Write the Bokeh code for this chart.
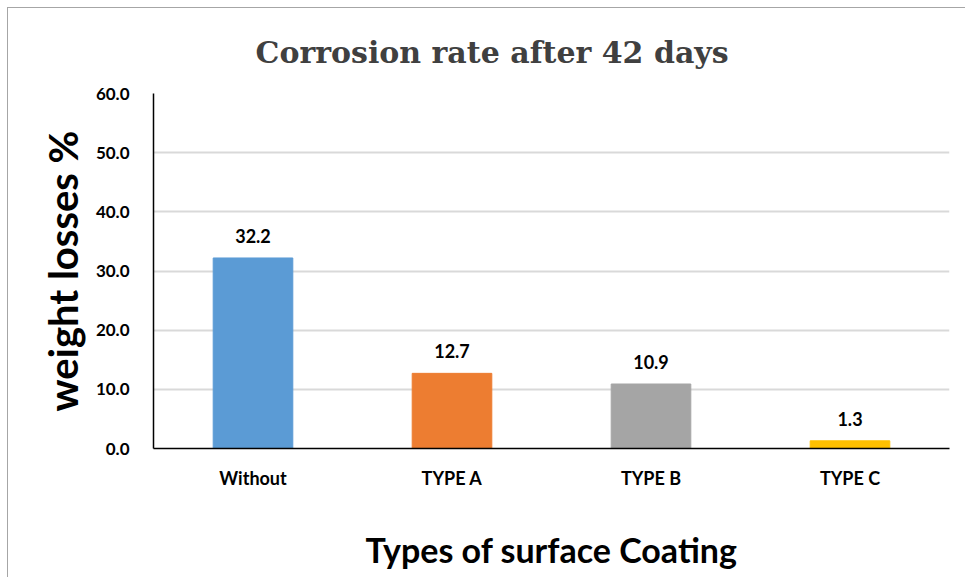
from bokeh.plotting import figure
from bokeh.models import ColumnDataSource, SingleIntervalTicker, NumeralTickFormatter, Title, FactorRange
from bokeh.core.properties import value
from bokeh.embed import file_html
from bokeh.resources import INLINE

categories = ["Without", "TYPE A", "TYPE B", "TYPE C"]
weight_losses = [32.2, 12.7, 10.9, 1.3]
bar_colors = ["#5B9BD5", "#ED7D31", "#A5A5A5", "#FFC000"]
labels = ["32.2", "12.7", "10.9", "1.3"]

src = ColumnDataSource(dict(cat=categories, val=weight_losses, color=bar_colors, lab=labels))

FONT = "Lato"

p = figure(frame_width=796, frame_height=355, x_range=FactorRange(*categories, range_padding=0),
           y_range=(0, 60), output_backend="svg", toolbar_location=None,
           min_border_left=145, min_border_right=16, min_border_top=85, min_border_bottom=129)
p.styles = {"margin-left": "7px", "margin-top": "7px",
            "border-top": "1.5px solid #a6a6a6", "border-left": "1.5px solid #a6a6a6"}

t = Title(text="Corrosion rate after 42 days", align="left", offset=102,
          text_font="DejaVu Serif", text_font_size="30px", text_font_style="bold",
          text_color="#404040", standoff=48)
p.add_layout(t, "above")

p.vbar(x="cat", top="val", width=0.4, color="color", source=src)
p.text(x="cat", y="val", text="lab", source=src, text_align="center", text_baseline="bottom",
       y_offset=-15, text_font=value(FONT), text_font_style="bold", text_font_size="18px",
       text_color="#000000")

p.outline_line_color = None
p.xgrid.grid_line_color = None
p.ygrid.grid_line_color = "#d9d9d9"
p.ygrid.grid_line_width = 2

p.yaxis.ticker = SingleIntervalTicker(interval=10)
p.yaxis.formatter = NumeralTickFormatter(format="0.0")
p.yaxis.major_tick_line_color = None
p.yaxis.minor_tick_line_color = None
p.yaxis.axis_line_color = "#000000"
p.yaxis.axis_line_width = 1.5
p.yaxis.major_label_standoff = 18
p.yaxis.major_label_text_font = FONT
p.yaxis.major_label_text_font_style = "bold"
p.yaxis.major_label_text_font_size = "17px"
p.yaxis.major_label_text_color = "#000000"
p.yaxis.axis_label = "weight losses %"
p.yaxis.axis_label_text_font = FONT
p.yaxis.axis_label_text_font_style = "bold"
p.yaxis.axis_label_text_font_size = "40px"
p.yaxis.axis_label_text_color = "#000000"
p.yaxis.axis_label_standoff = 6

p.xaxis.major_tick_line_color = None
p.xaxis.minor_tick_line_color = None
p.xaxis.axis_line_color = "#000000"
p.xaxis.axis_line_width = 1.5
p.xaxis.major_label_standoff = 12
p.xaxis.major_label_text_font = FONT
p.xaxis.major_label_text_font_style = "bold"
p.xaxis.major_label_text_font_size = "18px"
p.xaxis.major_label_text_color = "#000000"
p.xaxis.axis_label = "Types of surface Coating"
p.xaxis.axis_label_text_font = FONT
p.xaxis.axis_label_text_font_style = "bold"
p.xaxis.axis_label_text_font_size = "34px"
p.xaxis.axis_label_text_color = "#000000"
p.xaxis.axis_label_standoff = 37

open("out.html", "w").write(file_html(p, INLINE))
